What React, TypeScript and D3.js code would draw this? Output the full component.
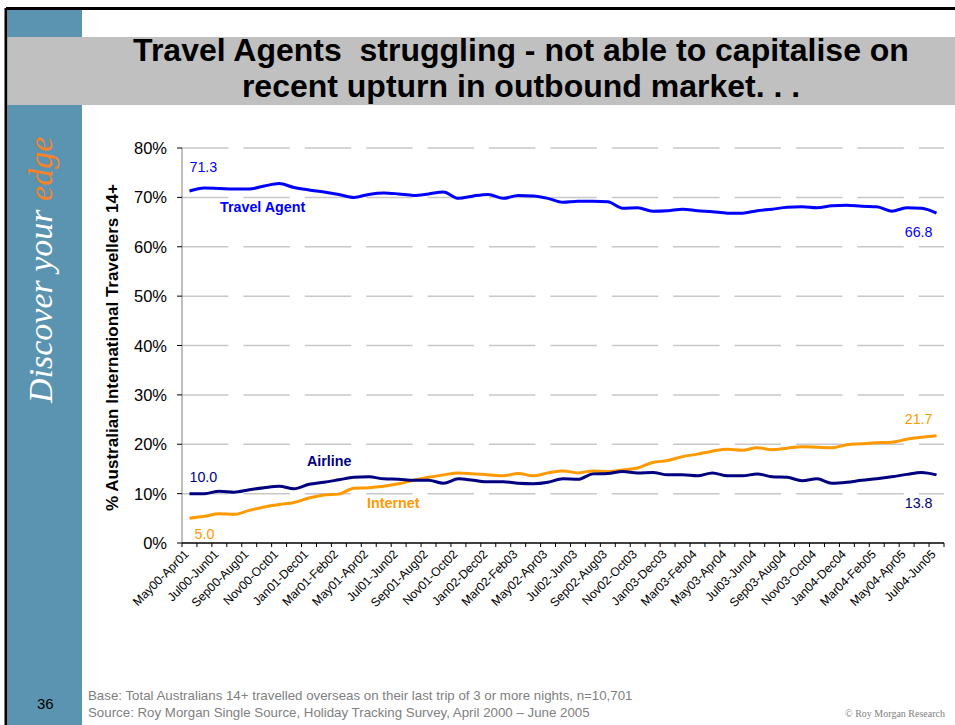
import React from "react";
import * as d3 from "d3";

const categories = [
  "May00-Apr01","Jun00-May01","Jul00-Jun01","Aug00-Jul01","Sep00-Aug01","Oct00-Sep01",
  "Nov00-Oct01","Dec00-Nov01","Jan01-Dec01","Feb01-Jan02","Mar01-Feb02","Apr01-Mar02",
  "May01-Apr02","Jun01-May02","Jul01-Jun02","Aug01-Jul02","Sep01-Aug02","Oct01-Sep02",
  "Nov01-Oct02","Dec01-Nov02","Jan02-Dec02","Feb02-Jan03","Mar02-Feb03","Apr02-Mar03",
  "May02-Apr03","Jun02-May03","Jul02-Jun03","Aug02-Jul03","Sep02-Aug03","Oct02-Sep03",
  "Nov02-Oct03","Dec02-Nov03","Jan03-Dec03","Feb03-Jan04","Mar03-Feb04","Apr03-Mar04",
  "May03-Apr04","Jun03-May04","Jul03-Jun04","Aug03-Jul04","Sep03-Aug04","Oct03-Sep04",
  "Nov03-Oct04","Dec03-Nov04","Jan04-Dec04","Feb04-Jan05","Mar04-Feb05","Apr04-Mar05",
  "May04-Apr05","Jun04-May05","Jul04-Jun05"
];

const travelAgent = [
  71.3, 71.9, 71.8, 71.7, 71.7, 72.3, 72.8, 72.0, 71.5, 71.1,
  70.6, 70.0, 70.6, 70.9, 70.7, 70.4, 70.7, 71.1, 69.8, 70.3,
  70.6, 69.8, 70.4, 70.3, 69.8, 69.0, 69.2, 69.2, 69.1, 67.8,
  67.9, 67.2, 67.3, 67.6, 67.3, 67.1, 66.8, 66.8, 67.3, 67.6,
  68.0, 68.1, 67.9, 68.3, 68.4, 68.2, 68.1, 67.2, 67.9, 67.8,
  66.8
];

const airline = [
  10.0, 10.0, 10.5, 10.3, 10.8, 11.2, 11.5, 11.0, 11.9, 12.3,
  12.8, 13.3, 13.4, 13.0, 12.9, 12.7, 12.7, 12.1, 13.0, 12.7,
  12.4, 12.4, 12.1, 12.0, 12.3, 13.0, 12.9, 14.0, 14.1, 14.5,
  14.2, 14.3, 13.8, 13.8, 13.6, 14.2, 13.6, 13.6, 14.0, 13.4,
  13.3, 12.6, 13.0, 12.1, 12.3, 12.7, 13.0, 13.4, 13.9, 14.3,
  13.8
];

const internet = [
  5.0, 5.4, 5.9, 5.8, 6.6, 7.3, 7.8, 8.2, 9.1, 9.7,
  9.9, 11.1, 11.2, 11.5, 12.0, 12.7, 13.3, 13.8, 14.2, 14.0,
  13.8, 13.6, 14.1, 13.6, 14.2, 14.6, 14.2, 14.6, 14.5, 14.8,
  15.2, 16.3, 16.7, 17.5, 18.0, 18.6, 19.0, 18.8, 19.3, 18.9,
  19.2, 19.5, 19.4, 19.3, 19.9, 20.1, 20.3, 20.4, 21.0, 21.4,
  21.7
];

const yTicks = [0, 10, 20, 30, 40, 50, 60, 70, 80];

const titleLines = [
  "Travel Agents  struggling - not able to capitalise on",
  "recent upturn in outbound market. . ."
];

const footerLines = [
  "Base: Total Australians 14+ travelled overseas on their last trip of 3 or more nights, n=10,701",
  "Source: Roy Morgan Single Source, Holiday Tracking Survey, April 2000 \u2013 June 2005"
];

const W = 955;
const H = 725;
const plotLeft = 182;
const plotRight = 944;
const plotTop = 148;
const plotBottom = 543;

const C_TA = "#0000ff";
const C_AIR = "#000080";
const C_NET = "#ff9900";

export default function App() {
  const x = d3.scaleBand<string>().domain(categories).range([plotLeft, plotRight]).padding(0);
  const bw = x.bandwidth();
  const cx = (i: number) => (x(categories[i]) as number) + bw / 2;
  const y = d3.scaleLinear().domain([0, 80]).range([plotBottom, plotTop]);

  const line = d3
    .line<number>()
    .x((_, i) => cx(i))
    .y((d) => y(d))
    .curve(d3.curveMonotoneX);

  const last = categories.length - 1;
  const font = "Arial, 'Liberation Sans', sans-serif";

  return (
    <svg
      width={W}
      height={H}
      style={{ position: "absolute", left: 0, top: 0, background: "#fff" }}
      fontFamily={font}
    >
      {/* frame */}
      <rect x={0} y={0} width={W} height={H} fill="#fff" />
      <line x1={6} y1={8.5} x2={W} y2={8.5} stroke="#000" strokeWidth={3} />
      <line x1={6} y1={8} x2={6} y2={H} stroke="#000" strokeWidth={3} />
      {/* sidebar */}
      <rect x={7.5} y={10} width={74.5} height={H - 10} fill="#5b94b0" />
      {/* title band */}
      <rect x={7.5} y={37} width={W - 7.5} height={68} fill="#c0c0c0" />
      <g fontWeight="bold" fontSize={32} fill="#000" textAnchor="middle" style={{ whiteSpace: "pre" }}>
        <text x={521} y={61} xmlSpace="preserve">{titleLines[0]}</text>
        <text x={521} y={97}>{titleLines[1]}</text>
      </g>

      {/* sidebar text */}
      <text
        transform="translate(52,403) rotate(-90)"
        fontFamily="'Liberation Serif', 'Times New Roman', serif"
        fontStyle="italic"
        fontSize={34}
        fill="#ffffff"
      >
        Discover your <tspan fill="#f7822a">edge</tspan>
      </text>

      {/* gridlines */}
      <g>
        {yTicks.filter((t) => t > 0).map((t) => (
          <line
            key={t}
            x1={plotLeft}
            x2={plotRight}
            y1={y(t)}
            y2={y(t)}
            stroke="#c8c8c8"
            strokeWidth={1.5}
            strokeDasharray="46.4 15"
          />
        ))}
      </g>

      {/* y axis */}
      <line x1={plotLeft} x2={plotLeft} y1={plotTop} y2={plotBottom} stroke="#808080" strokeWidth={1} />
      {yTicks.map((t) => (
        <g key={t}>
          <line x1={plotLeft - 5} x2={plotLeft} y1={y(t)} y2={y(t)} stroke="#000" strokeWidth={1} />
          <text x={167} y={y(t) + 6} fontSize={16.5} textAnchor="end" fill="#000">
            {t}%
          </text>
        </g>
      ))}
      <text
        transform={`translate(118,347.5) rotate(-90)`}
        textAnchor="middle"
        fontWeight="bold"
        fontSize={17}
        fill="#000"
      >
        % Australian International Travellers 14+
      </text>

      {/* x axis */}
      <line x1={plotLeft} x2={plotRight} y1={plotBottom} y2={plotBottom} stroke="#000" strokeWidth={1.5} />
      {d3.range(categories.length + 1).map((i) => {
        const xx = plotLeft + i * bw;
        return <line key={i} x1={xx} x2={xx} y1={plotBottom} y2={plotBottom + 4} stroke="#000" strokeWidth={1} />;
      })}
      {categories.map((c, i) =>
        i % 2 === 0 ? (
          <text
            key={c}
            transform={`translate(${cx(i)},${plotBottom + 12}) rotate(-45)`}
            textAnchor="end"
            fontSize={12.2}
            fill="#000"
          >
            {c}
          </text>
        ) : null
      )}

      {/* lines */}
      <path d={line(internet) || ""} fill="none" stroke={C_NET} strokeWidth={3} />
      <path d={line(airline) || ""} fill="none" stroke={C_AIR} strokeWidth={3} />
      <path d={line(travelAgent) || ""} fill="none" stroke={C_TA} strokeWidth={3} />

      {/* annotations */}
      <g fontSize={14.3}>
        <text x={cx(0)} y={y(travelAgent[0]) - 19} fill={C_TA}>{travelAgent[0].toFixed(1)}</text>
        <text x={220} y={212} fill={C_TA} fontWeight="bold">Travel Agent</text>
        <text x={cx(last) - 4} y={y(travelAgent[last]) + 24} fill={C_TA} textAnchor="end">
          {travelAgent[last].toFixed(1)}
        </text>

        <text x={cx(0)} y={y(airline[0]) - 12} fill={C_AIR}>{airline[0].toFixed(1)}</text>
        <text x={307} y={466} fill={C_AIR} fontWeight="bold">Airline</text>
        <text x={cx(last) - 4} y={y(airline[last]) + 33} fill={C_AIR} textAnchor="end">
          {airline[last].toFixed(1)}
        </text>

        <text x={cx(0) + 5} y={y(internet[0]) + 21} fill={C_NET}>{internet[0].toFixed(1)}</text>
        <text x={367} y={508} fill={C_NET} fontWeight="bold">Internet</text>
        <text x={cx(last) - 4} y={y(internet[last]) - 12} fill={C_NET} textAnchor="end">
          {internet[last].toFixed(1)}
        </text>
      </g>

      {/* footer */}
      <text x={37} y={709} fontSize={15} fill="#000">36</text>
      <g fontSize={13.3} fill="#808080">
        <text x={88} y={700}>{footerLines[0]}</text>
        <text x={88} y={717}>{footerLines[1]}</text>
      </g>
      <text
        x={945}
        y={717}
        textAnchor="end"
        fontFamily="'Liberation Serif', 'Times New Roman', serif"
        fontSize={10}
        fill="#808080"
      >
        © Roy Morgan Research
      </text>
    </svg>
  );
}
